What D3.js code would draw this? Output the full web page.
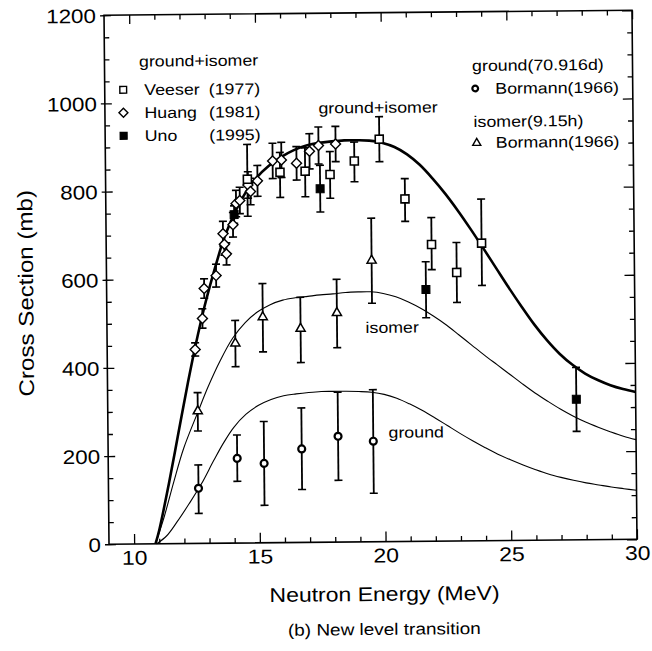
<!DOCTYPE html>
<html lang="en">
  <head>
    <meta charset="UTF-8" />
    <title>Cross Section</title>
    <script src="https://cdn.jsdelivr.net/npm/d3@7"></script>
    <style>
      body { margin: 0; background: #fff; }
      svg { display: block; font-family: 'Liberation Sans', Arial, Helvetica, sans-serif; }
    </style>
  </head>
  <body>
    <svg width="652" height="651"></svg>
  </body>

  <script>
    // tick labels
    var energyTicks = [10, 15, 20, 25, 30];
    var sigmaTicks = [0, 200, 400, 600, 800, 1000, 1200];

    // ground+isomer : Veeser (1977)
    var veeserE = [14.64, 15.94, 16.94, 17.93, 18.9, 19.9, 20.9, 21.94, 22.93, 23.93];
    var veeserXS = [825, 840, 842, 834, 864, 913, 777, 673, 609, 675];
    var veeserLo = [741, 783, 784, 780, 817, 862, 726, 616, 541, 579];
    var veeserHi = [904, 885, 895, 886, 907, 964, 823, 734, 677, 775];

    // ground+isomer : Huang (1981)
    var huangE = [12.5, 12.8, 12.88, 13.36, 13.65, 13.7, 13.78, 14.05, 14.18, 14.33, 14.66, 14.76, 15.04, 15.65, 16.0, 16.6, 17.12, 17.48, 18.16];
    var huangXS = [440, 510, 578, 607, 702, 678, 656, 722, 770, 777, 812, 797, 821, 866, 868, 860, 887, 900, 903];
    var huangErr = [15, 22, 22, 26, 28, 25, 25, 28, 30, 30, 30, 30, 35, 40, 40, 38, 40, 42, 40];

    // ground+isomer : Uno (1995)
    var unoE = [14.1, 17.53, 21.7, 27.64];
    var unoXS = [745, 802, 571, 319];
    var unoLo = [725, 749, 507, 246];
    var unoHi = [765, 855, 634, 391];

    // ground (70.916d) : Bormann (1966)
    var groundE = [12.58, 14.13, 15.2, 16.7, 18.15, 19.55];
    var groundXS = [125, 192, 180, 212, 240, 228];
    var groundLo = [68, 140, 85, 120, 140, 110];
    var groundHi = [178, 245, 275, 305, 340, 345];

    // isomer (9.15h) : Bormann (1966)
    var isomerE = [12.58, 14.1, 15.2, 16.7, 18.15, 19.55];
    var isomerXS = [300, 453, 512, 485, 520, 638];
    var isomerLo = [255, 400, 433, 408, 441, 541];
    var isomerHi = [342, 505, 588, 556, 596, 734];

    // calculated curves
    var sumCurveE = [10.85, 11.0, 11.4, 11.8, 12.2, 12.5, 12.9, 13.4, 13.7, 14.2, 14.6, 15.0, 15.5, 16.0, 16.5, 17.0, 17.5, 18.0, 18.5, 19.0, 19.5, 20.0, 20.5, 21.0, 21.5, 22.0, 22.5, 23.0, 23.5, 24.0, 24.5, 25.0, 25.5, 26.0, 26.5, 27.0, 27.5, 28.0, 28.5, 29.0, 29.5, 30.0];
    var sumCurveXS = [0, 30, 135, 250, 365, 445, 540, 640, 693, 758, 798, 828, 855, 875, 890, 900, 906, 909, 911, 911, 910, 905, 895, 878, 854, 823, 788, 749, 707, 663, 618, 573, 530, 489, 453, 422, 397, 377, 362, 350, 341, 334];

    var isoCurveE = [10.85, 11.2, 11.6, 12.0, 12.6, 13.0, 13.5, 14.0, 14.5, 15.0, 15.5, 16.0, 16.5, 17.0, 17.5, 18.0, 18.5, 19.0, 19.5, 20.0, 20.5, 21.0, 21.5, 22.0, 22.5, 23.0, 23.5, 24.0, 24.5, 25.0, 25.5, 26.0, 26.5, 27.0, 27.5, 28.0, 28.5, 29.0, 29.5, 30.0];
    var isoCurveXS = [0, 60, 140, 215, 300, 355, 415, 465, 500, 524, 540, 550, 555, 558, 561, 563, 566, 567, 567, 563, 555, 543, 528, 510, 490, 467, 444, 421, 399, 377, 355, 334, 315, 297, 281, 267, 255, 244, 234, 226];

    var gndCurveE = [10.9, 11.3, 11.7, 12.2, 12.7, 13.2, 13.6, 14.0, 14.5, 15.0, 15.5, 16.0, 16.5, 17.0, 17.5, 18.0, 18.5, 19.0, 19.5, 20.0, 20.5, 21.0, 21.5, 22.0, 22.5, 23.0, 23.5, 24.0, 24.5, 25.0, 25.5, 26.0, 26.5, 27.0, 27.5, 28.0, 28.5, 29.0, 29.5, 30.0];
    var gndCurveXS = [0, 18, 48, 90, 135, 188, 228, 262, 292, 312, 325, 333, 337, 340, 342, 342, 342, 341, 339, 334, 325, 312, 297, 280, 262, 244, 227, 211, 196, 183, 171, 160, 150, 142, 135, 129, 124, 119, 115, 111];

    var stretch = 1.15; // the scanned lettering is wider than Arial

    var svg = d3.select('svg');
    // the scanned figure sits slightly tilted
    var g = svg.append('g').attr('transform', 'rotate(-0.54,370.5,277.25)');

    var x = d3.scaleLinear().domain([9, 30]).range([106.5, 634.5]);
    var y = d3.scaleLinear().domain([0, 1200]).range([541.75, 12.75]);

    var minorE = d3.range(10, 30).filter(function (d) { return d % 5 !== 0; });
    var minorS = d3.range(50, 1200, 50).filter(function (d) { return d % 200 !== 0; });

    function cleanAxis(sel) {
      sel.select('.domain').remove();
      sel.selectAll('line').attr('stroke', '#000').attr('stroke-width', 1.3);
      sel.selectAll('text').attr('fill', '#000');
    }

    // bottom axis
    var axBottom = g.append('g').attr('transform', 'translate(0,' + y(0) + ')');
    axBottom.append('g')
      .call(d3.axisBottom(x).tickValues(energyTicks).tickSize(-10).tickPadding(6.5).tickFormat(d3.format('d')))
      .call(cleanAxis)
      .selectAll('text').attr('font-size', 20).attr('transform', 'scale(' + stretch + ',1)');
    axBottom.append('g')
      .call(d3.axisBottom(x).tickValues(minorE).tickSize(-5).tickFormat(''))
      .call(cleanAxis);

    // top axis
    var axTop = g.append('g').attr('transform', 'translate(0,' + y(1200) + ')');
    axTop.append('g').call(d3.axisTop(x).tickValues(energyTicks).tickSize(-9).tickFormat('')).call(cleanAxis);
    axTop.append('g').call(d3.axisTop(x).tickValues(minorE).tickSize(-5).tickFormat('')).call(cleanAxis);

    // left axis
    var axLeft = g.append('g').attr('transform', 'translate(' + x(9) + ',0)');
    axLeft.append('g')
      .call(d3.axisLeft(y).tickValues(sigmaTicks).tickSize(-7).tickPadding(7).tickFormat(d3.format('d')))
      .call(cleanAxis)
      .selectAll('text').attr('font-size', 19.5).attr('dy', '0.36em').attr('transform', 'scale(' + stretch + ',1)');
    axLeft.append('g').call(d3.axisLeft(y).tickValues(sigmaTicks).tickSize(4).tickFormat('')).call(cleanAxis);
    axLeft.append('g').call(d3.axisLeft(y).tickValues(minorS).tickSize(-5).tickFormat('')).call(cleanAxis);

    // right axis
    var axRight = g.append('g').attr('transform', 'translate(' + x(30) + ',0)');
    axRight.append('g').call(d3.axisRight(y).tickValues(sigmaTicks).tickSize(-10).tickFormat('')).call(cleanAxis);
    axRight.append('g').call(d3.axisRight(y).tickValues(minorS).tickSize(-5).tickFormat('')).call(cleanAxis);

    // frame
    g.append('rect')
      .attr('x', x(9)).attr('y', y(1200))
      .attr('width', x(30) - x(9)).attr('height', y(0) - y(1200))
      .attr('fill', 'none').attr('stroke', '#000').attr('stroke-width', 1.6);

    // curves
    var line = d3.line()
      .x(function (d) { return x(d[0]); })
      .y(function (d) { return y(d[1]); })
      .curve(d3.curveCatmullRom.alpha(0.5));

    g.append('path').datum(d3.zip(gndCurveE, gndCurveXS))
      .attr('d', line).attr('fill', 'none').attr('stroke', '#000').attr('stroke-width', 1.1);
    g.append('path').datum(d3.zip(isoCurveE, isoCurveXS))
      .attr('d', line).attr('fill', 'none').attr('stroke', '#000').attr('stroke-width', 1.1);
    g.append('path').datum(d3.zip(sumCurveE, sumCurveXS))
      .attr('d', line).attr('fill', 'none').attr('stroke', '#000').attr('stroke-width', 2.6);

    function rows(E, v, lo, hi) {
      return E.map(function (e, i) { return { e: e, v: v[i], lo: lo[i], hi: hi[i] }; });
    }
    var veeser = rows(veeserE, veeserXS, veeserLo, veeserHi);
    var huang = rows(huangE, huangXS,
      huangXS.map(function (v, i) { return v - huangErr[i]; }),
      huangXS.map(function (v, i) { return v + huangErr[i]; }));
    var uno = rows(unoE, unoXS, unoLo, unoHi);
    var ground = rows(groundE, groundXS, groundLo, groundHi);
    var isomer = rows(isomerE, isomerXS, isomerLo, isomerHi);

    // error bars
    function errorBars(data) {
      var eb = g.append('g').attr('stroke', '#000').attr('stroke-width', 1.8);
      eb.selectAll('line.v').data(data).join('line').attr('class', 'v')
        .attr('x1', function (d) { return x(d.e); }).attr('x2', function (d) { return x(d.e); })
        .attr('y1', function (d) { return y(d.lo); }).attr('y2', function (d) { return y(d.hi); });
      ['lo', 'hi'].forEach(function (k) {
        eb.selectAll('line.' + k).data(data).join('line').attr('class', k)
          .attr('stroke-width', 1.6)
          .attr('x1', function (d) { return x(d.e) - 4; }).attr('x2', function (d) { return x(d.e) + 4; })
          .attr('y1', function (d) { return y(d[k]); }).attr('y2', function (d) { return y(d[k]); });
      });
    }
    [ground, isomer, huang, veeser, uno].forEach(errorBars);

    // markers
    var sym = {
      square: d3.symbol(d3.symbolSquare, 64),
      diamond: d3.symbol(d3.symbolSquare, 50),
      circle: d3.symbol(d3.symbolCircle, 38),
      triangle: d3.symbol(d3.symbolTriangle, 36)
    };
    function markers(data, shape, fill, sw, rot) {
      g.append('g').selectAll('path').data(data).join('path')
        .attr('d', sym[shape])
        .attr('transform', function (d) { return 'translate(' + x(d.e) + ',' + y(d.v) + ')' + (rot ? ' rotate(45)' : ''); })
        .attr('fill', fill).attr('stroke', '#000').attr('stroke-width', sw);
    }
    markers(ground, 'circle', '#fff', 2.2);
    markers(isomer, 'triangle', '#fff', 1.5);
    markers(huang, 'diamond', '#fff', 1.4, true);
    markers(veeser, 'square', '#fff', 1.6);
    markers(uno, 'square', '#000', 1);

    // text helper
    function label(px, py, str, size, anchor, extra) {
      return g.append('text')
        .attr('transform', 'translate(' + px + ',' + py + ')' + (extra || '') + ' scale(' + stretch + ',1)')
        .attr('text-anchor', anchor || 'start')
        .attr('font-size', size)
        .attr('fill', '#000')
        .text(str);
    }

    // axis titles
    label(381.5, 601, 'Neutron Energy (MeV)', 20, 'middle');
    label(33, 290, 'Cross Section (mb)', 21, 'middle', ' rotate(-90)');
    label(381, 635, '(b) New level transition', 16.5, 'middle');

    // left legend
    label(141, 64.5, 'ground+isomer', 15.5);
    var legendLeft = [
      { name: 'Veeser', year: '(1977)', fill: '#fff', rot: false },
      { name: 'Huang', year: '(1981)', fill: '#fff', rot: true },
      { name: 'Uno', year: '(1995)', fill: '#000', rot: false }
    ];
    legendLeft.forEach(function (d, i) {
      var by = 93 + i * 23;
      g.append('path')
        .attr('d', d3.symbol(d3.symbolSquare, d.rot ? 40 : 46))
        .attr('transform', 'translate(125,' + (by - 5.5) + ')' + (d.rot ? ' rotate(45)' : ''))
        .attr('fill', d.fill).attr('stroke', '#000').attr('stroke-width', 1.4);
      label(146, by, d.name, 15.5);
      label(262, by, d.year, 15.5, 'end');
    });

    // right legend
    label(474, 72, 'ground(70.916d)', 15.5);
    g.append('path').attr('d', d3.symbol(d3.symbolCircle, 26))
      .attr('transform', 'translate(477,89.5)')
      .attr('fill', '#fff').attr('stroke', '#000').attr('stroke-width', 2.2);
    label(497, 95, 'Bormann(1966)', 15.5);
    label(475, 128, 'isomer(9.15h)', 15.5);
    g.append('path').attr('d', d3.symbol(d3.symbolTriangle, 28))
      .attr('transform', 'translate(478,144)')
      .attr('fill', '#fff').attr('stroke', '#000').attr('stroke-width', 1.4);
    label(497, 149, 'Bormann(1966)', 15.5);

    // curve labels
    label(320, 113, 'ground+isomer', 15.5);
    label(365, 333, 'isomer', 15.5);
    label(387, 438, 'ground', 15.5);
  </script>
</html>
